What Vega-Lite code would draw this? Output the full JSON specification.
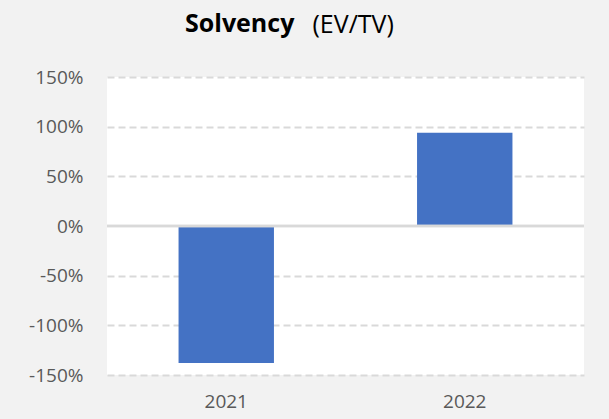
{
  "$schema": "https://vega.github.io/schema/vega-lite/v6.json",
  "width": 477,
  "height": 298,
  "autosize": "none",
  "padding": {"left": 107, "top": 77, "right": 25, "bottom": 44},
  "background": "#f2f2f2",
  "config": {"view": {"fill": "white", "stroke": null}, "font": "Open Sans", "locale": {"number": {"decimal": ".", "thousands": ",", "grouping": [3], "currency": ["$", ""], "minus": "-"}}},
  "title": {"text": "Solvency", "anchor": "start", "frame": "group", "dx": 78, "dy": 49, "fontSize": 25, "fontWeight": "bold", "color": "#000000", "font": "Open Sans", "baseline": "alphabetic"},
  "data": {"values": [{"year": "2021", "ratio": -1.38}, {"year": "2022", "ratio": 0.94}]},
  "layer": [
    {
      "mark": {"type": "bar", "color": "#4472c4"},
      "encoding": {
        "x": {"field": "year", "type": "nominal", "scale": {"paddingInner": 0.6, "paddingOuter": 0.3},
          "axis": {"title": null, "labelAngle": 0, "labelFontSize": 19, "labelColor": "#595959", "labelPadding": 17, "ticks": false, "domain": false, "labelFont": "Open Sans"}},
        "y": {"field": "ratio", "type": "quantitative", "scale": {"domain": [-1.5, 1.5], "nice": false},
          "axis": {"values": [-1.5, -1, -0.5, 0, 0.5, 1, 1.5], "format": ".0%", "labelFontSize": 19, "labelColor": "#595959", "labelPadding": 24, "labelFont": "Open Sans", "ticks": false, "domain": false,
            "gridColor": "#d9d9d9", "gridWidth": 2, "gridDash": [7, 4], "gridOpacity": {"condition": {"test": "datum.value === 0", "value": 0}, "value": 1},
            "title": "(EV/TV)", "titleAngle": 0, "titleX": 205, "titleY": -45, "titleAlign": "left", "titleBaseline": "alphabetic", "titleFontSize": 25, "titleFontWeight": "normal", "titleColor": "#000000", "titleFont": "Open Sans"}}
      }
    },
    {
      "mark": {"type": "rule", "color": "#d9d9d9", "strokeWidth": 2.5},
      "encoding": {"y": {"datum": 0}}
    }
  ]
}
